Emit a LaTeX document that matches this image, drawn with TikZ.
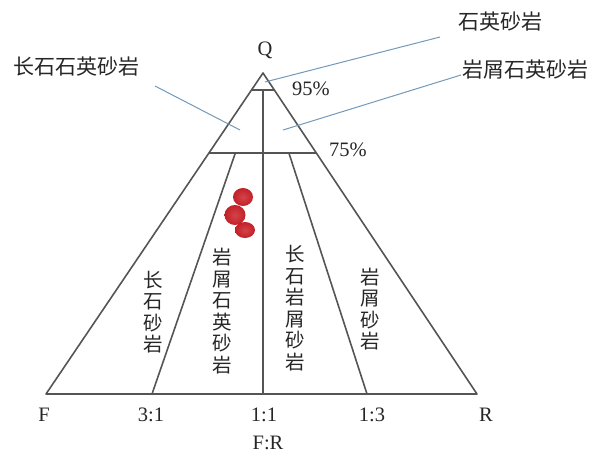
\documentclass[tikz,border=0pt]{standalone}
\usepackage{fontspec}
\setmainfont{Liberation Serif}
\newfontfamily\cjk{Noto Sans CJK SC}
\usetikzlibrary{calc}
\definecolor{edge}{HTML}{555555}
\definecolor{lead}{HTML}{7399BA}
\definecolor{ink}{HTML}{262626}
\definecolor{dotred}{HTML}{CC2229}
\tikzset{
  tri/.style={draw=edge,line width=1.6pt,line join=round},
  leader/.style={draw=lead,line width=1pt},
  lab/.style={text=ink,font=\fontsize{20.5}{22}\selectfont,inner sep=0pt},
  cjtop/.style={text=ink,font=\cjk\fontsize{21}{23}\selectfont,inner sep=0pt},
  cj/.style={text=ink,font=\cjk\fontsize{19.5}{21.5}\selectfont,inner sep=0pt,align=center},
  dot/.style={draw=none,inner color=dotred!85!white,outer color=dotred!95!black}
}
\begin{document}
\begin{tikzpicture}[x=1pt,y=-1pt]
\useasboundingbox (0,0) rectangle (591,456);
\coordinate (Q) at (263,73);
\coordinate (F) at (46,394);
\coordinate (R) at (477,394);
\coordinate (M) at (263,394);
\coordinate (A) at (152,394);
\coordinate (B) at (367,394);
\coordinate (l95) at ($(Q)!0.053!(F)$);
\coordinate (r95) at ($(Q)!0.053!(R)$);
\coordinate (c95) at (263,90);
\coordinate (l75) at ($(Q)!0.249!(F)$);
\coordinate (r75) at ($(Q)!0.249!(R)$);
\coordinate (a75) at ($(A)!0.751!(Q)$);
\coordinate (b75) at ($(B)!0.751!(Q)$);
% triangle
\draw[tri] (F) -- (Q) -- (R) -- cycle;
\draw[tri] (l95) -- (r95);
\draw[tri] (l75) -- (r75);
\draw[tri] (c95) -- (M);
\draw[tri] (A) -- (a75);
\draw[tri] (B) -- (b75);
% labels
\node[lab] (q) at (265,50) {Q};
\node[lab] (p95) at (311,89) {95\%};
\node[lab] (p75) at (348,150) {75\%};
\node[lab] (f) at (44,415) {F};
\node[lab] (r31) at (151,415) {3:1};
\node[lab] (r11) at (264,415) {1:1};
\node[lab] (r13) at (372,415) {1:3};
\node[lab] (rr) at (486,415) {R};
\node[lab] (fr) at (268,443) {F:R};
% top labels and leaders
\node[cjtop] (t1) at (500,22) {石英砂岩};
\node[cjtop] (t2) at (525,70) {岩屑石英砂岩};
\node[cjtop] (t3) at (76,67) {长石石英砂岩};
\coordinate (e1a) at (265,82);
\coordinate (e1b) at (440,37);
\coordinate (e2a) at (283,130);
\coordinate (e2b) at (461,75);
\coordinate (e3a) at (155,86);
\coordinate (e3b) at (240,130);
\draw[leader] (e1a) -- (e1b);
\draw[leader] (e2a) -- (e2b);
\draw[leader] (e3a) -- (e3b);
% vertical labels
\node[cj] (v1) at (153,312) {长\\石\\砂\\岩};
\node[cj] (v2) at (222,311) {岩\\屑\\石\\英\\砂\\岩};
\node[cj] (v3) at (295,308) {长\\石\\岩\\屑\\砂\\岩};
\node[cj] (v4) at (370,309) {岩\\屑\\砂\\岩};
% dots
\shade[dot] (243,197) ellipse [x radius=10, y radius=9];
\shade[dot] (235,215) ellipse [x radius=10.5, y radius=10];
\shade[dot] (245,230) ellipse [x radius=10, y radius=8];
\end{tikzpicture}
\end{document}
